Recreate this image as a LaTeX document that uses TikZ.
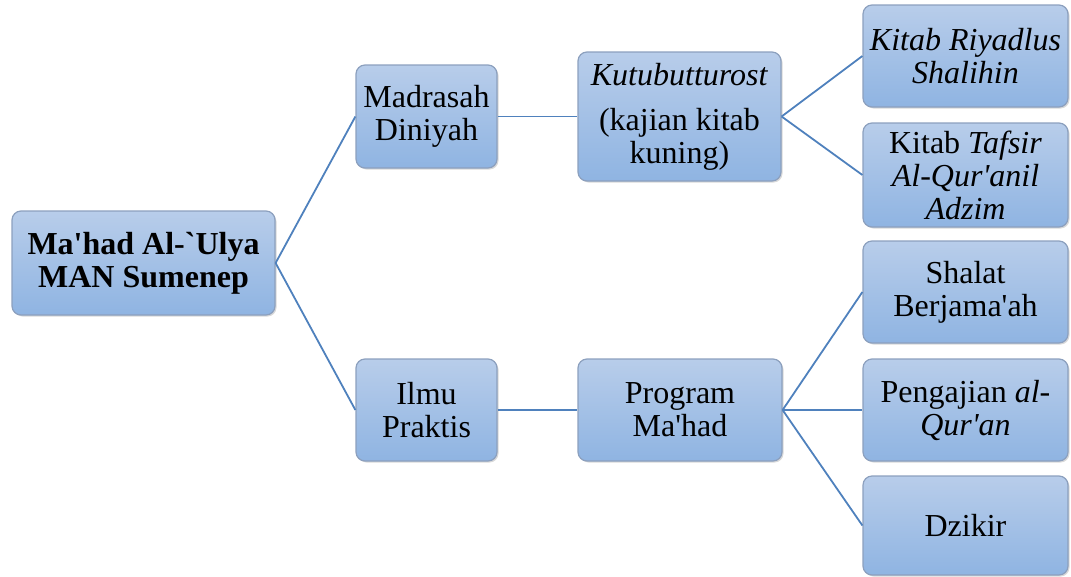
\documentclass[tikz,border=0pt]{standalone}
\usepackage{fontspec}
\setmainfont{Liberation Serif}[Ligatures=TeXOff]
\usetikzlibrary{shadows}
\definecolor{boxtop}{RGB}{184,205,234}
\definecolor{boxbot}{RGB}{143,180,226}
\definecolor{boxline}{RGB}{140,160,190}
\definecolor{linkcol}{RGB}{79,129,189}
\tikzset{
  box/.style={draw=boxline, line width=1.2pt, rounded corners=9pt,
    top color=boxtop, bottom color=boxbot, align=center,
    font=\fontsize{32}{33}\selectfont, inner sep=1pt,
    drop shadow={shadow xshift=1.5pt, shadow yshift=-1.5pt, opacity=0.25, fill=black!60}},
  link/.style={draw=linkcol, line width=1.8pt}
}
\begin{document}
\begin{tikzpicture}[x=1pt,y=-1pt]
\useasboundingbox (0,0) rectangle (1071,576);
\node[box, minimum width=263pt, minimum height=104pt] (root) at (143.5,263) {\textbf{Ma'had Al-`Ulya}\\\textbf{MAN Sumenep}};
\node[box, minimum width=141pt, minimum height=103pt] (md) at (426.5,116.5) {Madrasah\\Diniyah};
\node[box, minimum width=141pt, minimum height=102pt] (ip) at (426.5,410) {Ilmu\\Praktis};
\node[box, minimum width=203pt, minimum height=129pt] (kt) at (679.5,116.5) {\textit{Kutubutturost}\\[12pt](kajian kitab\\kuning)};
\node[box, minimum width=204pt, minimum height=102pt] (pm) at (680,410) {Program\\Ma'had};
\node[box, minimum width=205pt, minimum height=102pt] (kr) at (965.5,56) {\textit{Kitab Riyadlus}\\\textit{Shalihin}};
\node[box, minimum width=205pt, minimum height=104pt] (kf) at (965.5,175) {Kitab \textit{Tafsir}\\\textit{Al-Qur'anil}\\\textit{Adzim}};
\node[box, minimum width=205pt, minimum height=102pt] (sb) at (965.5,292) {Shalat\\Berjama'ah};
\node[box, minimum width=205pt, minimum height=102pt] (pq) at (965.5,410) {Pengajian \textit{al-}\\\textit{Qur'an}};
\node[box, minimum width=205pt, minimum height=99pt] (dz) at (965.5,525.5) {Dzikir};
\draw[link] (root.east) -- (md.west);
\draw[link] (root.east) -- (ip.west);
\draw[link] (md.east) -- (kt.west);
\draw[link] (ip.east) -- (pm.west);
\draw[link] (kt.east) -- (kr.west);
\draw[link] (kt.east) -- (kf.west);
\draw[link] (pm.east) -- (sb.west);
\draw[link] (pm.east) -- (pq.west);
\draw[link] (pm.east) -- (dz.west);
\end{tikzpicture}
\end{document}
